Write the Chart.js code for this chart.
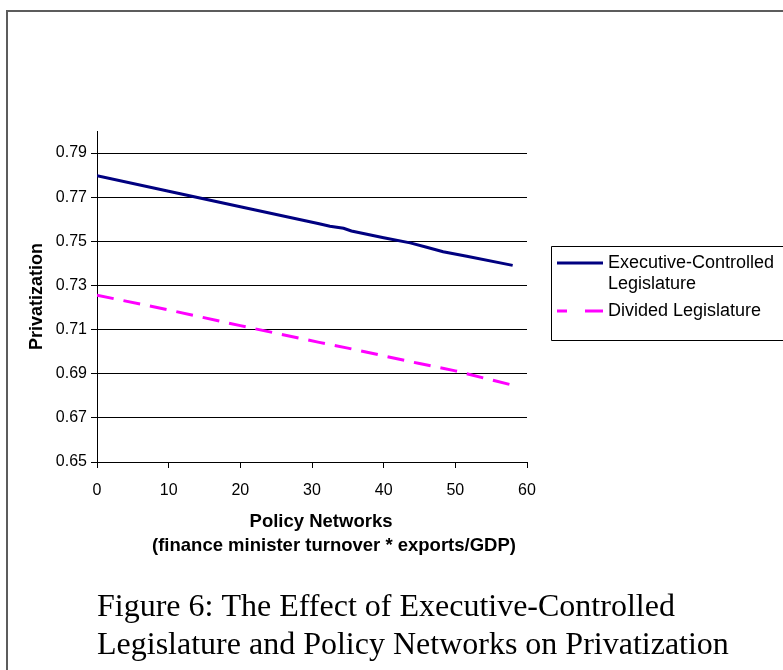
<!DOCTYPE html>
<html>
<head>
<meta charset="utf-8">
<script src="https://cdn.jsdelivr.net/npm/chart.js@4.4.1/dist/chart.umd.min.js"></script>
<style>
  html, body { margin: 0; padding: 0; background: #fff; }
  #wrap { width: 783px; height: 670px; position: relative; }
</style>
</head>
<body>
<div id="wrap"><canvas id="c" width="783" height="670"></canvas></div>
<script>
// Predicted privatization across policy-network values
const execX = [0, 10, 20, 31, 32.5, 34.4, 35.5, 40, 43.7, 46, 48.3, 51.6, 58];
const execY = [0.7797, 0.7727, 0.7657, 0.7580, 0.7568, 0.7559, 0.7547, 0.7516, 0.7493, 0.7473, 0.7453, 0.7432, 0.7391];
const divX = [0, 10, 20, 31, 35, 40, 45, 50, 58];
const divY = [0.7256, 0.7189, 0.7118, 0.7042, 0.7016, 0.6981, 0.6946, 0.6913, 0.6848];

const xTicks = [0, 10, 20, 30, 40, 50, 60];
const yTicks = [0.65, 0.67, 0.69, 0.71, 0.73, 0.75, 0.77, 0.79];

const seriesNames = ['Executive-Controlled\nLegislature', 'Divided Legislature'];
const xTitle = ['Policy Networks', '(finance minister turnover * exports/GDP)'];
const yTitle = 'Privatization';
const caption = ['Figure 6: The Effect of Executive-Controlled', 'Legislature and Policy Networks on Privatization'];

const SANS = '"Liberation Sans", Arial, sans-serif';
const SERIF = '"Liberation Serif", "Times New Roman", serif';

const pts = (xs, ys) => xs.map((x, i) => ({ x: x, y: ys[i] }));

// Page frame, axis titles, caption and boxed legend
const decorations = {
  id: 'decorations',
  afterDraw(chart) {
    const ctx = chart.ctx;
    const area = chart.chartArea;
    ctx.save();

    // outer frame (runs off the right and bottom edges)
    ctx.strokeStyle = '#5c5c5c';
    ctx.lineWidth = 2;
    ctx.beginPath();
    ctx.moveTo(7, 700);
    ctx.lineTo(7, 11);
    ctx.lineTo(800, 11);
    ctx.stroke();

    ctx.fillStyle = '#000';
    // y title
    ctx.font = 'bold 18px ' + SANS;
    ctx.textAlign = 'center';
    ctx.textBaseline = 'middle';
    ctx.save();
    ctx.translate(37, (area.top + area.bottom) / 2);
    ctx.rotate(-Math.PI / 2);
    ctx.fillText(yTitle, 0, 0);
    ctx.restore();

    // x title, two lines
    ctx.font = 'bold 18.5px ' + SANS;
    ctx.fillText(xTitle[0], area.left + 224, 522);
    ctx.fillText(xTitle[1], area.left + 237, 546);

    // caption
    ctx.font = '32px ' + SERIF;
    ctx.textAlign = 'left';
    ctx.textBaseline = 'alphabetic';
    ctx.fillText(caption[0], area.left, 616);
    ctx.fillText(caption[1], area.left, 654);

    // legend box
    ctx.strokeStyle = '#000';
    ctx.lineWidth = 1;
    ctx.beginPath();
    ctx.moveTo(800, 246.5);
    ctx.lineTo(551.5, 246.5);
    ctx.lineTo(551.5, 340.5);
    ctx.lineTo(800, 340.5);
    ctx.stroke();

    const rows = [263, 311];
    chart.data.datasets.forEach((ds, i) => {
      ctx.strokeStyle = ds.borderColor;
      ctx.lineWidth = ds.borderWidth;
      ctx.setLineDash(i === 1 ? [10, 18, 18, 0] : []);
      ctx.beginPath();
      ctx.moveTo(557, rows[i]);
      ctx.lineTo(603, rows[i]);
      ctx.stroke();
      ctx.setLineDash([]);
      ctx.fillStyle = '#000';
      ctx.font = '18px ' + SANS;
      ctx.textBaseline = 'middle';
      ds.label.split('\n').forEach((t, j) => ctx.fillText(t, 608, rows[i] + j * 21));
    });
    ctx.restore();
  }
};

new Chart(document.getElementById('c'), {
  type: 'line',
  data: {
    datasets: [
      { label: seriesNames[0], data: pts(execX, execY), borderColor: '#000080', borderWidth: 3,
        pointRadius: 0, tension: 0, fill: false },
      { label: seriesNames[1], data: pts(divX, divY), borderColor: '#ff00ff', borderWidth: 3,
        borderDash: [17, 10], pointRadius: 0, tension: 0, fill: false }
    ]
  },
  options: {
    responsive: false,
    animation: false,
    events: [],
    layout: { padding: { left: 0, top: 131, right: 256, bottom: 0 } },
    plugins: { legend: { display: false }, tooltip: { enabled: false }, title: { display: false } },
    scales: {
      x: {
        type: 'linear', min: 0, max: 60,
        afterFit(s) { s.height = 208; },
        afterBuildTicks(s) { s.ticks = xTicks.map(v => ({ value: v })); },
        grid: { drawOnChartArea: false, drawTicks: true, tickLength: 6, color: '#000', lineWidth: 1 },
        border: { display: true, color: '#000', width: 1 },
        ticks: { color: '#000', font: { family: SANS, size: 16 }, padding: 13, maxRotation: 0 }
      },
      y: {
        type: 'linear', min: 0.65, max: 0.80,
        afterFit(s) { s.width = 97; },
        afterBuildTicks(s) { s.ticks = yTicks.map(v => ({ value: v })); },
        grid: { drawOnChartArea: true, drawTicks: true, tickLength: 6, color: '#000', lineWidth: 1 },
        border: { display: true, color: '#000', width: 1 },
        ticks: { color: '#000', font: { family: SANS, size: 16 }, padding: 4,
                 callback: v => v.toFixed(2) }
      }
    }
  },
  plugins: [decorations]
});
</script>
</body>
</html>
